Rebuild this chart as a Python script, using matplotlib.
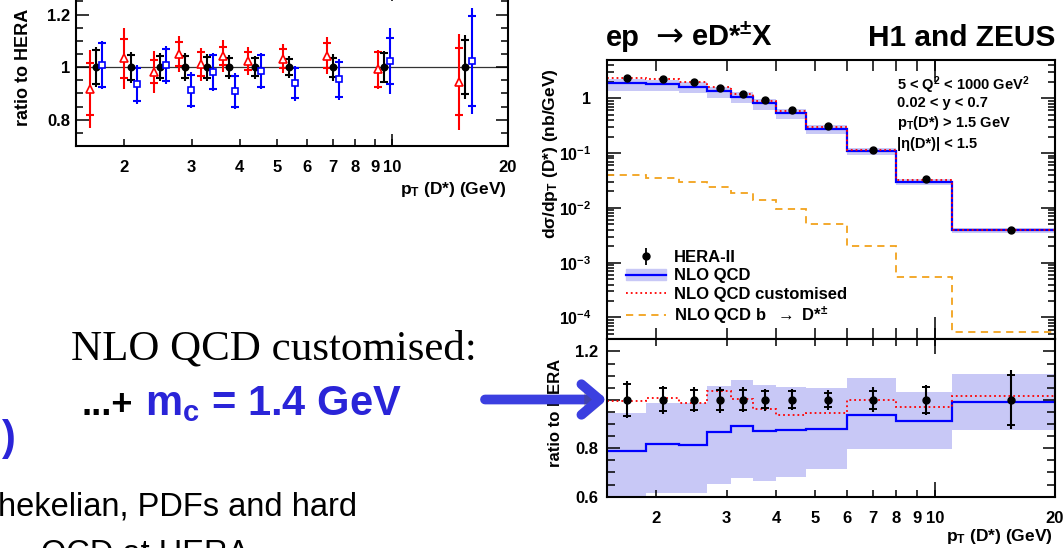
import numpy as np
import matplotlib
matplotlib.use('Agg')
import matplotlib.pyplot as plt
import matplotlib.patches as mpatches
import matplotlib.patheffects as pe
from matplotlib.lines import Line2D
from matplotlib.ticker import FixedLocator, NullFormatter, FuncFormatter, MultipleLocator, LogLocator

plt.rcParams['font.family'] = ['Liberation Sans', 'DejaVu Sans']
plt.rcParams['font.weight'] = 'bold'
plt.rcParams['axes.labelweight'] = 'bold'
plt.rcParams['mathtext.fontset'] = 'custom'
plt.rcParams['mathtext.rm'] = 'Liberation Sans:bold'
plt.rcParams['mathtext.bf'] = 'Liberation Sans:bold'
plt.rcParams['mathtext.it'] = 'Liberation Sans:bold'
plt.rcParams['mathtext.sf'] = 'Liberation Sans:bold'
plt.rcParams['mathtext.default'] = 'rm'

W, H = 1063, 548

# p_T(D*) bins (GeV)
edges = [1.5, 1.88, 2.28, 2.68, 3.08, 3.5, 4.0, 4.75, 6.0, 8.0, 11.0, 20.0]
centers = [1.69, 2.08, 2.48, 2.88, 3.29, 3.75, 4.375, 5.375, 7.0, 9.5, 15.5]

# HERA-II combined dsigma/dpT (nb/GeV), relative stat and total errors
hera = [2.36, 2.22, 1.99, 1.55, 1.20, 0.935, 0.614, 0.317, 0.115, 0.0331, 0.0039]
hera_stat = [0.065, 0.048, 0.041, 0.042, 0.040, 0.035, 0.035, 0.030, 0.036, 0.055, 0.104]
hera_tot = [0.077, 0.059, 0.052, 0.053, 0.051, 0.045, 0.044, 0.042, 0.051, 0.062, 0.122]

# NLO QCD / HERA with uncertainty band, customised NLO / HERA
nlo_ratio = [0.790, 0.817, 0.814, 0.869, 0.893, 0.871, 0.876, 0.880, 0.937, 0.912, 0.993]
nlo_lo = [0.580, 0.614, 0.617, 0.652, 0.677, 0.666, 0.680, 0.713, 0.795, 0.799, 0.875]
nlo_hi = [0.946, 0.988, 0.988, 1.056, 1.081, 1.060, 1.054, 1.047, 1.091, 1.033, 1.106]
cust_ratio = [0.995, 1.008, 0.988, 1.037, 1.003, 0.963, 0.937, 0.944, 1.001, 0.971, 1.015]

# NLO QCD b -> D* contribution (nb/GeV)
b_xsec = [0.0392, 0.0346, 0.0297, 0.0237, 0.0187, 0.0141, 0.0094, 0.0051, 0.00198, 0.00054, 0.000055]

# left panel: H1 and ZEUS inputs relative to HERA
red_val = [0.917, 1.033, 0.983, 1.050, 1.011, 1.042, 1.024, 1.032, 1.044, 0.991, 0.944]
red_stat = [0.100, 0.073, 0.045, 0.045, 0.045, 0.035, 0.035, 0.036, 0.046, 0.065, 0.127]
red_tot = [0.150, 0.116, 0.080, 0.068, 0.063, 0.060, 0.053, 0.056, 0.071, 0.076, 0.182]
blue_val = [1.008, 0.934, 1.008, 0.912, 0.982, 0.909, 0.985, 0.938, 0.953, 1.023, 1.023]
blue_stat = [0.085, 0.063, 0.062, 0.059, 0.064, 0.059, 0.060, 0.057, 0.066, 0.089, 0.171]
blue_tot = [0.092, 0.075, 0.072, 0.068, 0.073, 0.068, 0.068, 0.067, 0.077, 0.125, 0.200]

xtick_vals = [2, 3, 4, 5, 6, 7, 8, 9, 10, 20]

band_c = '#c8c8f6'
orange = '#f2a21c'
text_blue = '#2a24d8'
arrow_blue = '#3b3fe0'


def rect(left, top, right, bottom):
    return [left / W, 1 - bottom / H, (right - left) / W, (bottom - top) / H]


def root_xaxis(ax, short, long_):
    ax.set_xscale('log')
    ax.set_xlim(1.5, 20)
    ax.xaxis.set_major_locator(FixedLocator(xtick_vals))
    ax.xaxis.set_major_formatter(FuncFormatter(lambda v, p: '%g' % v))
    ax.xaxis.set_minor_locator(FixedLocator([10]))
    ax.xaxis.set_minor_formatter(NullFormatter())
    ax.xaxis.remove_overlapping_locs = False
    ax.tick_params(axis='x', which='major', length=short)
    ax.tick_params(axis='x', which='minor', length=long_)


def root_style(ax):
    ax.tick_params(which='both', direction='in', top=True, right=True, width=1.1,
                   labelsize=12, colors='black')
    for s in ax.spines.values():
        s.set_linewidth(1.5)


fig = plt.figure(figsize=(W / 100, H / 100), dpi=100)

# ---------------- left panel (cut off at top) ----------------
ax0 = fig.add_axes(rect(76, -11.75, 508, 146))
root_style(ax0)
root_xaxis(ax0, 5, 9)
ax0.set_ylim(0.7, 1.3)
ax0.yaxis.set_major_locator(FixedLocator([0.8, 1.0, 1.2]))
ax0.yaxis.set_major_formatter(FuncFormatter(lambda v, p: '%g' % v))
ax0.yaxis.set_minor_locator(MultipleLocator(0.05))
ax0.tick_params(axis='y', which='major', length=9, pad=4)
ax0.tick_params(axis='y', which='minor', length=5)
ax0.tick_params(axis='x', pad=10)
ax0.axhline(1.0, color='#333333', lw=0.9, zorder=1)

xc = np.array(centers)
ones = np.ones(len(centers))
series = [
    (red_val, red_stat, red_tot, 'red', '^', 1 / 1.037, 'white', 5.5),
    (ones, hera_stat, hera_tot, 'black', 'o', 1.0, 'black', 4.5),
    (blue_val, blue_stat, blue_tot, 'blue', 's', 1.037, 'white', 5),
]
for val, st, tot, col, mk, shift, mfc, ms in series:
    val = np.array(val)
    st = np.array(st)
    ax0.errorbar(xc * shift, val, yerr=tot, fmt=mk, color=col, mfc=mfc, mec=col,
                 mew=1.2, ms=ms, elinewidth=1.5, capsize=0, zorder=3)
    ax0.plot(xc * shift, val + st, '_', color=col, ms=6, mew=1.5, zorder=3)
    ax0.plot(xc * shift, val - st, '_', color=col, ms=6, mew=1.5, zorder=3)

ax0.set_ylabel('ratio to HERA', fontsize=13, va='center')
ax0.yaxis.set_label_coords((24 - 76) / 432, (146 - 67) / 157.75)
ax0.set_xlabel(r'p$_{T}$ (D*) (GeV)', fontsize=12.5, ha='right', va='baseline')
ax0.xaxis.set_label_coords((507 - 76) / 432, (146 - 194) / 157.75)

# ---------------- right upper panel ----------------
ax1 = fig.add_axes(rect(606.7, 60, 1055, 339.3))
root_style(ax1)
root_xaxis(ax1, 8, 16)
ax1.tick_params(axis='x', labelbottom=False)
ax1.set_yscale('log')
ax1.set_ylim(4e-5, 5)
ax1.yaxis.set_major_locator(FixedLocator([1e-4, 1e-3, 1e-2, 1e-1, 1]))
ax1.yaxis.set_major_formatter(FuncFormatter(
    lambda v, p: '1' if abs(v - 1) < 1e-9 else r'$10^{%d}$' % round(np.log10(v))))
ax1.yaxis.set_minor_locator(LogLocator(base=10, subs=np.arange(2, 10), numticks=20))
ax1.yaxis.set_minor_formatter(NullFormatter())
ax1.tick_params(axis='y', which='major', length=10, pad=11, labelsize=11.5)
ax1.tick_params(axis='y', which='minor', length=5)

hera_a = np.array(hera)
ax1.stairs(hera_a * np.array(nlo_hi), edges, baseline=hera_a * np.array(nlo_lo),
           fill=True, color=band_c, lw=0, zorder=1)
ax1.stairs(hera_a * np.array(nlo_ratio), edges, baseline=None, color='blue', lw=1.6, zorder=2)
ax1.stairs(hera_a * np.array(cust_ratio), edges, baseline=None, color='red', ls=':', lw=1.3, zorder=2)
ax1.stairs(b_xsec, edges, baseline=None, color=orange, ls=(0, (4, 3)), lw=1.3, zorder=2)
h_data = ax1.errorbar(centers, hera, yerr=hera_a * np.array(hera_tot), fmt='o', color='black',
                      ms=5, elinewidth=1.3, capsize=0, zorder=3)

h_nlo = (mpatches.Patch(color=band_c), Line2D([], [], color='blue', lw=1.6))
h_cust = Line2D([], [], color='red', ls=':', lw=1.3)
h_b = Line2D([], [], color=orange, ls=(0, (4, 3)), lw=1.3)
ax1.legend([h_data, h_nlo, h_cust, h_b],
           ['HERA-II', 'NLO QCD', 'NLO QCD customised', r'NLO QCD b  $\rightarrow$ D*$^{\pm}$'],
           loc='upper left', bbox_to_anchor=((626 - 606.7) / 448.3, (339.3 - 250) / 279.3),
           frameon=False, prop={'weight': 'bold', 'size': 12}, handlelength=2.4,
           handletextpad=0.5, labelspacing=0.2, borderpad=0, borderaxespad=0)

cut_lines = [r'5 < Q$^{2}$ < 1000 GeV$^{2}$', '0.02 < y < 0.7',
             r'p$_{T}$(D*) > 1.5 GeV', '|η(D*)| < 1.5']
cut_y = [85, 103, 123, 144]
for txt, yy in zip(cut_lines, cut_y):
    ax1.text((897 - 606.7) / 448.3, (339.3 - yy) / 279.3, txt, transform=ax1.transAxes,
             fontsize=10.5, ha='left', va='center')

ax1.set_ylabel(r'd$\sigma$/dp$_{T}$ (D*) (nb/GeV)', fontsize=12.5, va='center')
ax1.yaxis.set_label_coords((551 - 606.7) / 448.3, (339.3 - 153.5) / 279.3)

# ---------------- right lower panel ----------------
ax2 = fig.add_axes(rect(606.7, 339.3, 1055, 496.7))
root_style(ax2)
root_xaxis(ax2, 5, 11)
ax2.tick_params(axis='x', pad=10)
ax2.set_ylim(0.6, 1.25)
ax2.yaxis.set_major_locator(FixedLocator([0.6, 0.8, 1.0, 1.2]))
ax2.yaxis.set_major_formatter(FuncFormatter(lambda v, p: '%g' % v))
ax2.yaxis.set_minor_locator(MultipleLocator(0.05))
ax2.tick_params(axis='y', which='major', length=9, pad=6)
ax2.tick_params(axis='y', which='minor', length=6)

ax2.stairs(nlo_hi, edges, baseline=nlo_lo, fill=True, color=band_c, lw=0, zorder=1)
ax2.stairs(nlo_ratio, edges, baseline=None, color='blue', lw=1.6, zorder=2)
ax2.stairs(cust_ratio, edges, baseline=None, color='red', ls=':', lw=1.3, zorder=2)
ax2.errorbar(centers, ones, yerr=hera_tot, fmt='o', color='black', ms=5,
             elinewidth=1.5, capsize=0, zorder=3)
ax2.plot(centers, ones + np.array(hera_stat), '_', color='black', ms=6, mew=1.4, zorder=3)
ax2.plot(centers, ones - np.array(hera_stat), '_', color='black', ms=6, mew=1.4, zorder=3)

ax2.set_ylabel('ratio to HERA', fontsize=12, va='center')
ax2.yaxis.set_label_coords((555 - 606.7) / 448.3, (496.7 - 413) / 157.4)
ax2.set_xlabel(r'p$_{T}$ (D*) (GeV)', fontsize=12.5, ha='right', va='baseline')
ax2.xaxis.set_label_coords((1053 - 606.7) / 448.3, (496.7 - 541) / 157.4)

# ---------------- titles and slide text ----------------
fig.text(606 / W, 1 - 46 / H, 'ep', fontsize=21, ha='left', va='baseline')
fig.text(669 / W, 1 - 46 / H, '→', family='DejaVu Sans', weight='normal', fontsize=24,
         ha='center', va='baseline')
fig.text(691 / W, 1 - 46 / H, r'eD*$^{\pm}$X', fontsize=21, ha='left', va='baseline')
fig.text(1055 / W, 1 - 46 / H, 'H1 and ZEUS', fontsize=21.5, ha='right', va='baseline')

fig.text(71 / W, 1 - 360 / H, 'NLO QCD customised:', family='Liberation Serif',
         weight='normal', fontsize=31, ha='left', va='baseline')
fig.text(81 / W, 1 - 415 / H, '...+', fontsize=26, ha='left', va='baseline')
fig.text(145 / W, 1 - 415 / H, r'm$_{c}$ = 1.4 GeV', fontsize=30, color=text_blue,
         ha='left', va='baseline')
fig.text(2 / W, 1 - 450 / H, ')', fontsize=30, color=text_blue, ha='left', va='baseline')
fig.text(-2 / W, 1 - 515 / H, 'hekelian, PDFs and hard', weight='normal', fontsize=23.5,
         ha='left', va='baseline')
fig.text(41 / W, 1 - 563 / H, 'QCD at HERA', weight='normal', fontsize=23.5,
         ha='left', va='baseline')

arrow = mpatches.FancyArrowPatch(
    (485 / W, 1 - 399.5 / H), (607 / W, 1 - 399.5 / H), transform=fig.transFigure,
    arrowstyle=mpatches.ArrowStyle('->', head_length=13, head_width=11),
    color=arrow_blue, lw=7, capstyle='round', joinstyle='round',
    shrinkA=0, shrinkB=0, zorder=20,
    path_effects=[pe.SimplePatchShadow(offset=(2, -3), alpha=0.35), pe.Normal()])
fig.add_artist(arrow)

fig.savefig('out.png', dpi=100)
